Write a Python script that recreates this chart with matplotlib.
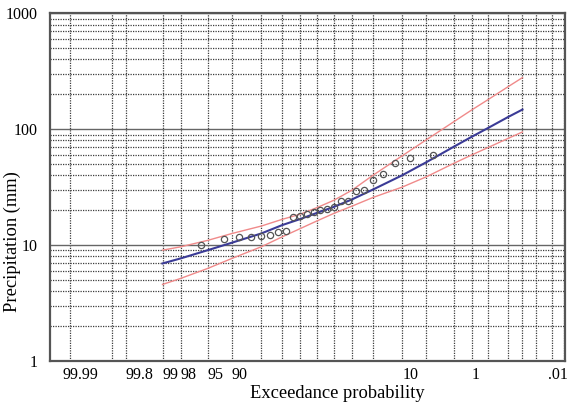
import matplotlib
matplotlib.use("Agg")
import matplotlib.pyplot as plt
import matplotlib.transforms as mtransforms
from statistics import NormalDist

# exceedance probability (%) -> standard normal position on probability paper
def zpos(p):
    return NormalDist().inv_cdf(1 - p / 100.0)

# observed data (plotting positions, %) and precipitation (mm)
obs_prob = [4, 8, 12, 16, 20, 24, 28, 32, 36, 40, 44, 48,
            52, 56, 60, 64, 68, 72, 76, 80, 84, 88, 92, 96]
obs_prec = [59.7, 56.6, 51.2, 41.5, 36.8, 29.8, 29.2, 24.1, 23.9, 21.4, 20.3, 20.1,
            19.4, 18.4, 17.9, 17.5, 13.2, 13.0, 12.3, 12.0, 11.8, 11.7, 11.2, 10.1]

# fitted curve and confidence limits
curve_prob = [99, 98, 95, 90, 80, 70, 60, 50, 40, 30, 20, 10, 5, 2, 1, 0.5, 0.2, 0.1]
fit_prec = [6.95, 7.68, 9.05, 10.5, 12.6, 14.9, 16.8, 19.0, 21.4, 24.8, 30.2, 40.1,
            52.0, 70.5, 86.1, 102.8, 127.9, 147.9]
upper_prec = [9.05, 9.67, 11.0, 12.6, 14.6, 16.7, 18.5, 21.1, 24.4, 29.8, 40.1, 59.1,
              81.2, 115.8, 146.7, 180.6, 233.8, 279]
lower_prec = [4.58, 5.16, 6.30, 7.68, 9.67, 11.8, 13.9, 16.2, 18.8, 21.7, 25.8, 31.7,
              38.9, 50.7, 60.0, 69.7, 83.6, 94.8]

# probability paper grid
label_probs = [99.99, 99.8, 99, 98, 95, 90, 10, 1, 0.01]
label_text = ["99.99", "99.8", "99", "98", "95", "90", "10", "1", ".01"]
grid_probs = [99.9, 80, 70, 60, 50, 40, 30, 20, 5, 2, 0.5, 0.2, 0.1, 0.05, 0.02]

plt.rcParams['font.family'] = ['Liberation Serif', 'DejaVu Serif']

fig = plt.figure(figsize=(5.7, 4.05), dpi=100)
ax = fig.add_axes([0.0877, 0.1086, 0.9035, 0.8584])

ax.set_yscale('log')
ax.set_ylim(1, 1000)
ax.set_xlim(-4.02, 3.73)

ax.plot([zpos(p) for p in curve_prob], upper_prec, color='#f08a8a', lw=1.0, zorder=3)
ax.plot([zpos(p) for p in curve_prob], lower_prec, color='#f08a8a', lw=1.0, zorder=3)
ax.plot([zpos(p) for p in curve_prob], fit_prec, color='#3b3b96', lw=1.5, zorder=4)
ax.plot([zpos(p) for p in obs_prob], obs_prec, 'o', ms=4.5, mfc='none',
        mec='#555555', mew=0.9, zorder=5)

ax.set_xticks([zpos(p) for p in label_probs])
ax.set_xticklabels(label_text)
ax.set_xticks([zpos(p) for p in grid_probs], minor=True)
ax.set_yticks([1, 10, 100, 1000])
ax.set_yticklabels(["1", "10", "100", "1000"])

ax.tick_params(axis='both', which='both', length=0, labelsize=11.5)
ax.tick_params(axis='y', pad=9)
ax.tick_params(axis='x', pad=4)

# tick labels sit just right of their grid line
for lbl in ax.get_xticklabels():
    lbl.set_ha('left')
    txt = lbl.get_text()
    if txt == "99.99":
        lbl.set_transform(lbl.get_transform() +
                          mtransforms.ScaledTranslation(-0.07, 0, fig.dpi_scale_trans))
    elif txt == ".01":
        lbl.set_ha('right')
        lbl.set_transform(lbl.get_transform() +
                          mtransforms.ScaledTranslation(0.04, 0, fig.dpi_scale_trans))

ax.grid(which='major', axis='y', color='#666666', lw=1.0, ls='-')
ax.grid(which='minor', axis='y', color='#3c3c3c', lw=0.9, ls=(0, (1, 1)))
ax.grid(which='both', axis='x', color='#3c3c3c', lw=0.9, ls=(0, (1, 1)))
ax.set_axisbelow(True)

for sp in ax.spines.values():
    sp.set_color('#555555')
    sp.set_linewidth(1.6)

ax.set_xlabel('Exceedance probability', fontsize=13.3)
ax.xaxis.label.set_va('center')
ax.xaxis.set_label_coords(0.557, -0.092)
ax.set_ylabel('Precipitation (mm)', fontsize=13.3)
ax.yaxis.label.set_va('center')
ax.yaxis.set_label_coords(-0.074, 0.344)

plt.savefig('out.png', dpi=100)
